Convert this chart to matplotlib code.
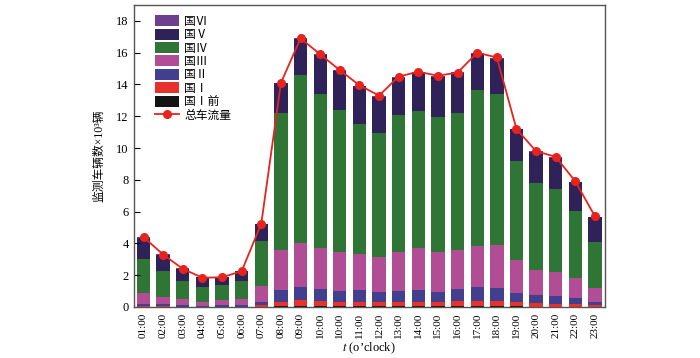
import matplotlib
matplotlib.use("Agg")
import matplotlib.pyplot as plt
import numpy as np

hours = ["01:00", "02:00", "03:00", "04:00", "05:00", "06:00", "07:00", "08:00",
         "09:00", "10:00", "10:00", "11:00", "12:00", "13:00", "14:00", "15:00",
         "16:00", "17:00", "18:00", "19:00", "20:00", "21:00", "22:00", "23:00"]

pre_i = [0.01, 0.01, 0.01, 0.01, 0.01, 0.01, 0.03, 0.05, 0.06, 0.05, 0.05, 0.05,
         0.05, 0.05, 0.05, 0.05, 0.07, 0.05, 0.05, 0.04, 0.03, 0.03, 0.02, 0.02]
g1 = [0.03, 0.03, 0.02, 0.02, 0.02, 0.02, 0.09, 0.26, 0.38, 0.33, 0.28, 0.26,
      0.26, 0.24, 0.24, 0.24, 0.31, 0.35, 0.35, 0.27, 0.22, 0.18, 0.15, 0.08]
g2 = [0.15, 0.13, 0.07, 0.05, 0.07, 0.07, 0.19, 0.76, 0.84, 0.73, 0.70, 0.76,
      0.65, 0.71, 0.76, 0.65, 0.73, 0.83, 0.79, 0.57, 0.50, 0.48, 0.40, 0.21]
g3 = [0.67, 0.44, 0.38, 0.25, 0.34, 0.40, 1.01, 2.53, 2.72, 2.61, 2.46, 2.28,
      2.16, 2.49, 2.65, 2.51, 2.49, 2.58, 2.70, 2.07, 1.59, 1.51, 1.25, 0.90]
g4 = [2.19, 1.65, 1.17, 0.95, 0.92, 1.15, 2.84, 8.58, 10.62, 9.67, 8.92, 8.16,
      7.80, 8.59, 8.66, 8.53, 8.62, 9.85, 9.54, 6.23, 5.48, 5.21, 4.25, 2.89]
g5 = [1.31, 1.03, 0.76, 0.60, 0.52, 0.61, 1.05, 1.89, 2.23, 2.48, 2.46, 2.37,
      2.31, 2.35, 2.40, 2.52, 2.50, 2.25, 2.17, 2.00, 1.96, 1.95, 1.77, 1.54]
g6 = [0.03, 0.02, 0.02, 0.02, 0.02, 0.02, 0.04, 0.05, 0.05, 0.05, 0.05, 0.05,
      0.05, 0.05, 0.05, 0.05, 0.05, 0.05, 0.05, 0.05, 0.05, 0.05, 0.05, 0.05]
total = [4.4, 3.3, 2.4, 1.84, 1.87, 2.25, 5.25, 14.1, 16.9, 15.9, 14.9, 13.95,
         13.3, 14.5, 14.8, 14.55, 14.75, 16.0, 15.7, 11.2, 9.8, 9.45, 7.9, 5.7]

layers = [("国Ⅰ前", pre_i, "#141414"),
          ("国Ⅰ", g1, "#e8312b"),
          ("国Ⅱ", g2, "#413f8e"),
          ("国Ⅲ", g3, "#b04d95"),
          ("国Ⅳ", g4, "#2f7536"),
          ("国Ⅴ", g5, "#2e2259"),
          ("国Ⅵ", g6, "#6e3f91")]

plt.rcParams['font.family'] = ['Liberation Serif', 'Noto Sans CJK SC']
plt.rcParams['mathtext.fontset'] = 'stix'

fig = plt.figure(figsize=(7, 3.58), dpi=100)
ax = fig.add_axes([0.191, 0.1425, 0.673, 0.8435])

x = np.arange(len(hours))
bottom = np.zeros(len(hours))
handles = {}
for name, vals, col in layers:
    b = ax.bar(x, vals, width=0.68, bottom=bottom, color=col, label=name, linewidth=0)
    handles[name] = b
    bottom += np.array(vals)

ln, = ax.plot(x, total, color="#e8231e", marker="o", markersize=5.5, linewidth=1.3,
              label="总车流量")

order = ["国Ⅵ", "国Ⅴ", "国Ⅳ", "国Ⅲ", "国Ⅱ", "国Ⅰ", "国Ⅰ前"]
leg = ax.legend([handles[n] for n in order] + [ln], order + ["总车流量"],
                loc="upper left", bbox_to_anchor=(0.03, 0.99), frameon=False,
                fontsize=8.5, handlelength=2.0, handleheight=1.05,
                labelspacing=0.08, handletextpad=0.5, borderaxespad=0.2)

ax.set_xlim(-0.5, 23.5)
ax.set_ylim(0, 19)
ax.set_yticks(np.arange(0, 19, 2))
ax.set_xticks(x)
ax.set_xticklabels(hours, rotation=90, fontsize=8)
ax.tick_params(axis='y', direction='in', labelsize=9, length=4)
ax.tick_params(axis='x', direction='in', length=0, pad=4)
for s in ax.spines.values():
    s.set_color("#555555")
    s.set_linewidth(1.0)

ax.set_ylabel("监测车辆数×10³辆", fontsize=8.5, labelpad=8)
ax.set_xlabel("$t$ (o’clock)", fontsize=9, labelpad=2)

fig.savefig("out.png", dpi=100)
